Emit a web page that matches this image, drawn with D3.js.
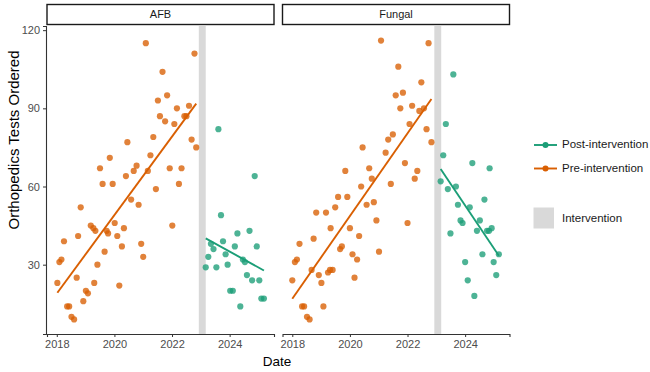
<!DOCTYPE html>
<html>
<head>
<meta charset="utf-8">
<script src="https://cdn.jsdelivr.net/npm/d3@7"></script>
<style>
  body { margin: 0; background: #fff; }
  text { font-family: "Liberation Sans", Arial, sans-serif; }
</style>
</head>
<body>
<svg id="chart"></svg>
<script>
const panelNames = ['AFB', 'Fungal']
const yTicks = [30, 60, 90, 120]
const xTicks = [2018, 2020, 2022, 2024]
const interventionStart = 2022.93, interventionEnd = 2023.17
const legendLabels = ['Post-intervention', 'Pre-intervention']

// AFB, dates as decimal years
const afbPreDates = [2018.02,2018.09,2018.16,2018.25,2018.36,2018.43,2018.51,2018.60,2018.69,2018.74,2018.83,2018.92,
  2019.01,2019.08,2019.18,2019.27,2019.30,2019.34,2019.41,2019.50,2019.59,2019.66,2019.73,2019.78,2019.84,2019.94,
  2020.01,2020.10,2020.17,2020.26,2020.33,2020.40,2020.45,2020.58,2020.67,2020.77,2020.84,2020.93,
  2021.00,2021.09,2021.16,2021.25,2021.35,2021.44,2021.51,2021.58,2021.67,2021.76,2021.83,2021.92,
  2022.01,2022.08,2022.17,2022.24,2022.33,2022.43,2022.50,2022.59,2022.68,2022.78,2022.84]
const afbPreValues = [23,31,32,39,14,14,10,9,25,41,52,16,
  20,19,45,44,23,43,30,67,61,35,43,42,71,61,
  46,41,22,37,44,64,77,55,66,68,53,38,
  33,115,66,72,79,59,93,87,104,85,95,67,
  45,84,90,61,67,87,87,91,78,111,75]
const afbPostDates = [2023.17,2023.26,2023.35,2023.44,2023.54,2023.61,2023.70,2023.77,2023.86,2023.93,
  2024.02,2024.11,2024.18,2024.27,2024.37,2024.46,2024.53,2024.60,2024.69,2024.78,2024.87,2024.94,
  2025.03,2025.10,2025.19]
const afbPostValues = [29,33,38,36,29,82,49,39,34,30,
  20,20,37,42,14,32,31,26,43,24,64,37,
  24,17,17]

// Fungal
const fungalPreDates = [2018.00,2018.09,2018.16,2018.25,2018.34,2018.41,2018.51,2018.60,2018.67,2018.74,2018.83,2018.92,
  2019.01,2019.08,2019.17,2019.24,2019.31,2019.33,2019.40,2019.49,2019.59,2019.66,2019.72,2019.84,2019.91,
  2020.00,2020.09,2020.16,2020.25,2020.32,2020.39,2020.44,2020.58,2020.67,2020.76,2020.83,2020.92,
  2021.01,2021.08,2021.24,2021.33,2021.42,2021.49,2021.59,2021.68,2021.75,2021.84,2021.91,
  2022.00,2022.07,2022.16,2022.25,2022.34,2022.41,2022.48,2022.57,2022.66,2022.73,2022.83]
const fungalPreValues = [24,31,32,38,14,14,10,9,28,40,50,26,
  23,14,50,27,28,44,28,52,56,36,37,66,56,
  44,34,25,32,41,60,75,53,67,63,54,47,
  35,116,73,78,61,80,95,106,90,96,69,
  46,84,91,63,66,89,100,90,82,115,77]
const fungalPostDates = [2023.15,2023.24,2023.33,2023.40,2023.49,2023.59,2023.68,2023.75,2023.84,2023.91,
  2024.00,2024.09,2024.16,2024.25,2024.32,2024.41,2024.51,2024.60,2024.67,2024.76,2024.83,2024.85,2024.92,2024.99,
  2025.08,2025.17]
const fungalPostValues = [62,72,84,59,42,103,60,53,47,46,
  31,24,52,69,18,43,47,34,55,43,43,67,44,31,
  26,34]

const preColor = '#D95F02', postColor = '#1B9E77', bandColor = '#D9D9D9'

let svgWidth = 650, svgHeight = 372
let panelTop = 26, panelBottom = 334, panelWidth = 227
let panelLeft = [47, 282.5]

let svg = d3.select('#chart').attr('width', svgWidth).attr('height', svgHeight)

let y = d3.scaleLinear().domain([3.4, 121.6]).range([panelBottom, panelTop])

function zip(dates, values){
  return dates.map((d, i) => ({ t: d, v: values[i] }))
}

// ordinary least squares, like geom_smooth(method = 'lm')
function fitLine(pts){
  let mx = d3.mean(pts, p => p.t), my = d3.mean(pts, p => p.v)
  let sxy = d3.sum(pts, p => (p.t - mx) * (p.v - my))
  let sxx = d3.sum(pts, p => (p.t - mx) * (p.t - mx))
  let b = sxy / sxx, a = my - b * mx
  let ext = d3.extent(pts, p => p.t)
  return ext.map(t => ({ t: t, v: a + b * t }))
}

let panels = [
  { name: panelNames[0], pre: zip(afbPreDates, afbPreValues), post: zip(afbPostDates, afbPostValues) },
  { name: panelNames[1], pre: zip(fungalPreDates, fungalPreValues), post: zip(fungalPostDates, fungalPostValues) }
]

panels.forEach((p, i) => {
  let x = d3.scaleLinear().domain([2017.66, 2025.54]).range([panelLeft[i], panelLeft[i] + panelWidth])
  let g = svg.append('g')

  // strip
  g.append('rect')
    .attr('x', panelLeft[i]).attr('y', 4.5)
    .attr('width', panelWidth).attr('height', 20)
    .attr('fill', '#fff').attr('stroke', '#1a1a1a').attr('stroke-width', 1.4)
  g.append('text')
    .attr('x', panelLeft[i] + panelWidth / 2).attr('y', 15)
    .attr('text-anchor', 'middle').attr('dominant-baseline', 'middle')
    .attr('font-size', 11).attr('fill', '#1a1a1a')
    .text(p.name)

  // intervention band
  g.append('rect')
    .attr('x', x(interventionStart)).attr('y', panelTop)
    .attr('width', x(interventionEnd) - x(interventionStart))
    .attr('height', panelBottom - panelTop)
    .attr('fill', bandColor)

  // x axis
  let xAxis = g.append('g')
    .attr('transform', `translate(0,${panelBottom})`)
    .call(d3.axisBottom(x).tickValues(xTicks).tickFormat(d3.format('d')).tickSizeOuter(0).tickSize(3).tickPadding(3))
  xAxis.select('.domain').attr('stroke', '#333').attr('stroke-width', 1.1)
  xAxis.selectAll('.tick line').attr('stroke', '#333')
  xAxis.selectAll('text').attr('font-size', 11).attr('fill', '#4d4d4d').attr('font-family', null)

  if (i == 0) {
    let yAxis = g.append('g')
      .attr('transform', `translate(${panelLeft[i] - 1},0)`)
      .call(d3.axisLeft(y).tickValues(yTicks).tickSizeOuter(0).tickSize(3).tickPadding(3))
    yAxis.select('.domain').attr('stroke', '#333').attr('stroke-width', 1.1)
    yAxis.selectAll('.tick line').attr('stroke', '#333')
    yAxis.selectAll('text').attr('font-size', 11).attr('fill', '#4d4d4d').attr('font-family', null)
  }

  let line = d3.line().x(d => x(d.t)).y(d => y(d.v))

  ;[['pre', preColor], ['post', postColor]].forEach(([key, col]) => {
    g.append('g').selectAll('circle').data(p[key]).enter().append('circle')
      .attr('cx', d => x(d.t)).attr('cy', d => y(d.v))
      .attr('r', 3.1)
      .attr('fill', col).attr('fill-opacity', 0.78)
    g.append('path')
      .datum(fitLine(p[key]))
      .attr('d', line)
      .attr('fill', 'none').attr('stroke', col).attr('stroke-width', 1.9)
  })
})

// axis titles
svg.append('text')
  .attr('x', 277).attr('y', 366)
  .attr('text-anchor', 'middle').attr('font-size', 13.5).attr('fill', '#000')
  .text('Date')
svg.append('text')
  .attr('transform', 'translate(19,140) rotate(-90)')
  .attr('text-anchor', 'middle').attr('font-size', 15).attr('fill', '#000')
  .text('Orthopedics Tests Ordered')

// legend
let legend = svg.append('g')
let legendColors = [postColor, preColor]
legendLabels.forEach((lab, i) => {
  let ly = 145 + i * 23.5
  legend.append('line')
    .attr('x1', 534).attr('x2', 557).attr('y1', ly).attr('y2', ly)
    .attr('stroke', legendColors[i]).attr('stroke-width', 1.9)
  legend.append('circle')
    .attr('cx', 545.5).attr('cy', ly).attr('r', 3)
    .attr('fill', legendColors[i])
  legend.append('text')
    .attr('x', 562).attr('y', ly).attr('dominant-baseline', 'middle')
    .attr('font-size', 11.5).attr('fill', '#1a1a1a')
    .text(lab)
})
legend.append('rect')
  .attr('x', 533.5).attr('y', 207.5).attr('width', 20.5).attr('height', 21)
  .attr('fill', bandColor)
legend.append('text')
  .attr('x', 562).attr('y', 219).attr('dominant-baseline', 'middle')
  .attr('font-size', 11.5).attr('fill', '#1a1a1a')
  .text('Intervention')
</script>
</body>
</html>
